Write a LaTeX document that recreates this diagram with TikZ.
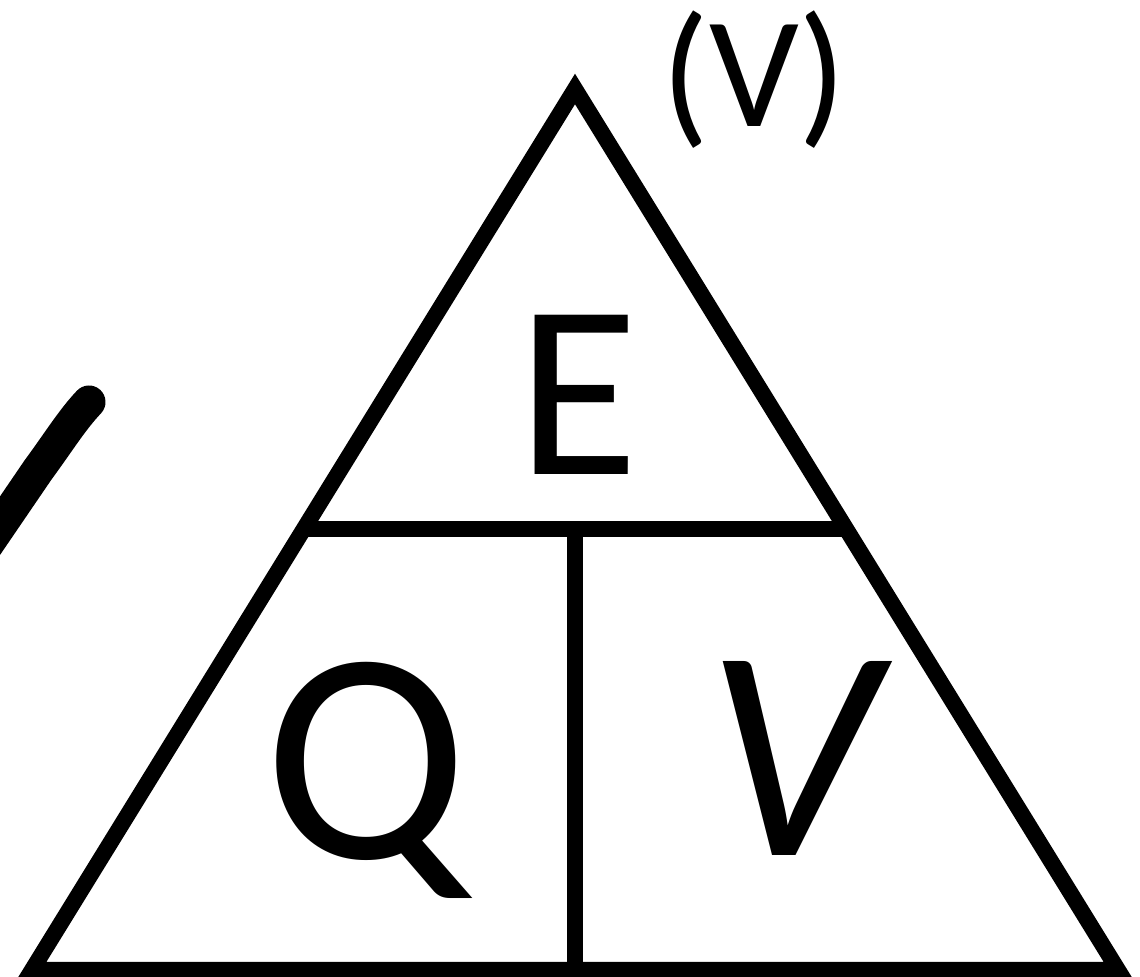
\documentclass[tikz,border=0pt]{standalone}
\usepackage{fontspec}
\setmainfont{Carlito}
\usetikzlibrary{positioning}

\begin{document}
\begin{tikzpicture}[
    x=0.01cm, y=-0.01cm,
    edge/.style={line width=0.16cm, line join=miter, black},
    letter/.style={anchor=base, inner sep=0pt, font=\fontsize{86}{100}\selectfont},
    topletter/.style={anchor=base, inner sep=0pt, font=\fontsize{70.6}{80}\selectfont},
    unit/.style={anchor=base, inner sep=0pt, font=\fontsize{45}{55}\selectfont}
]
\useasboundingbox (0,0) rectangle (1140,977);
\clip (0,0) rectangle (1140,977);

% ================= Corners =================
\coordinate (apex) at (575,89);
\coordinate (left) at (32,970);
\coordinate (right) at (1118,970);
\coordinate (midleft) at (304,529);
\coordinate (midright) at (846,529);
\coordinate (midtop) at (575,529);
\coordinate (midbottom) at (575,970);

% ================= Triangle =================
\draw[edge] (left) -- (apex) -- (right) -- cycle;
\draw[edge] (midleft) -- (midright);
\draw[edge] (midtop) -- (midbottom);

% ================= Letters =================
\node[topletter] (energy) at (578,475) {E};
\node[letter] (charge) at (366,859) {Q};
\node[letter] (voltage) at (792,855) {\itshape V};
\node[unit] (volts) at (754,127) {(V)};

% Cut-off stroke on the left edge
\coordinate (strokeend) at (-20,555);
\coordinate (stroketop) at (89,402);
\draw[line width=0.33cm, line cap=round] (strokeend) -- (38,470) .. controls (60,440) and (72,420) .. (stroketop);

\end{tikzpicture}
\end{document}
